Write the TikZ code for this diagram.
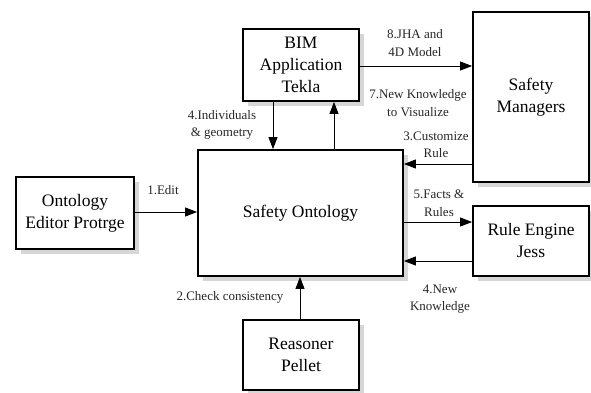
\documentclass[tikz,border=0pt]{standalone}
\usepackage{fontspec}
\setmainfont{Liberation Serif}
\usetikzlibrary{arrows.meta,shadows}
\begin{document}
\begin{tikzpicture}[x=1pt,y=-1pt,
  box/.style={draw=black, line width=1.8pt, fill=white, align=center,
    inner sep=2pt, font=\fontsize{17.5}{22}\selectfont,
    drop shadow={fill=black!16, opacity=1, shadow xshift=5pt, shadow yshift=-5pt}},
  arr/.style={line width=0.9pt, -{Triangle[length=12pt,width=9pt]}},
  lbl/.style={align=center, inner sep=0pt, text=black!85,
    font=\fontsize{13}{17.5}\selectfont}]
\useasboundingbox (0,0) rectangle (591,392);
% boxes
\node[box, minimum width=118pt, minimum height=72pt] (OE) at (75,213) {Ontology\\Editor Protrge};
\node[box, minimum width=205pt, minimum height=126pt] (SO) at (300.5,213) {Safety Ontology};
\node[box, minimum width=116pt, minimum height=72pt] (BIM) at (301,65) {BIM\\Application\\Tekla};
\node[box, minimum width=116pt, minimum height=170pt] (SM) at (531,97) {Safety\\Managers};
\node[box, minimum width=116pt, minimum height=70pt] (RE) at (531,241) {Rule Engine\\Jess};
\node[box, minimum width=116pt, minimum height=70pt] (RP) at (301,355) {Reasoner\\Pellet};
% lanes
\coordinate (c4) at (273,0);
\coordinate (c7) at (334,0);
\coordinate (c2) at (300,0);
\coordinate (c8) at (0,66);
\coordinate (c3) at (0,164);
\coordinate (c5) at (0,222);
\coordinate (c4n) at (0,261);
\coordinate (c1) at (0,212);
% connectors
\draw[arr] (OE.east |- c1) -- (SO.west |- c1);
\draw[arr] (BIM.south -| c4) -- (SO.north -| c4);
\draw[arr] (SO.north -| c7) -- (BIM.south -| c7);
\draw[arr] (BIM.east |- c8) -- (SM.west |- c8);
\draw[arr] (SM.west |- c3) -- (SO.east |- c3);
\draw[arr] (SO.east |- c5) -- (RE.west |- c5);
\draw[arr] (RE.west |- c4n) -- (SO.east |- c4n);
\draw[arr] (RP.north -| c2) -- (SO.south -| c2);
% labels
\node[lbl] (l1) at (163,190) {1.Edit};
\node[lbl] (l4) at (222,125) {4.Individuals\\\& geometry};
\node[lbl] (l8) at (415,43) {8.JHA and\\4D Model};
\node[lbl] (l7) at (418,103) {7.New Knowledge\\to Visualize};
\node[lbl] (l3) at (436,145) {3.Customize\\Rule};
\node[lbl] (l5) at (439,203) {5.Facts \&\\Rules};
\node[lbl] (l4n) at (440,299) {4.New\\Knowledge};
\node[lbl] (l2) at (230,297) {2.Check consistency};
\end{tikzpicture}
\end{document}
